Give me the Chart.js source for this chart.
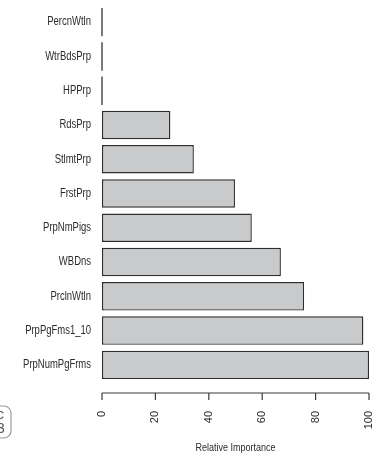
<!DOCTYPE html>
<html>
<head>
<meta charset="utf-8">
<script src="https://cdn.jsdelivr.net/npm/chart.js@4/dist/chart.umd.min.js"></script>
<style>
  html, body { margin: 0; padding: 0; background: #ffffff; }
  #wrap { width: 376px; height: 457px; position: relative; }
</style>
</head>
<body>
<div id="wrap"><canvas id="chart" width="376" height="457"></canvas></div>
<script>
// Variable names, top to bottom
const variables = [
  'PercnWtln', 'WtrBdsPrp', 'HPPrp', 'RdsPrp', 'StlmtPrp', 'FrstPrp',
  'PrpNmPigs', 'WBDns', 'PrclnWtln', 'PrpPgFms1_10', 'PrpNumPgFrms'
];
// Relative importance of each variable (0-100)
const importance = [0, 0, 0, 25.6, 34.4, 49.8, 56.1, 67.0, 75.7, 97.9, 100];
// Axis ticks
const tickValues = [0, 20, 40, 60, 80, 100];
const axisTitle = 'Relative Importance';

const FONT = "'Liberation Sans', Arial, sans-serif";
const TEXT_COLOR = '#2b2b2b';
const AXIS_GAP = 11;   // distance between bar region and the drawn axis line
const TICK_LEN = 7;

// Draws a string squeezed horizontally (narrow sans look)
function narrowText(ctx, text, x, y, size, squeeze, align) {
  ctx.save();
  ctx.font = size + 'px ' + FONT;
  ctx.fillStyle = TEXT_COLOR;
  ctx.textBaseline = 'middle';
  ctx.textAlign = align;
  ctx.translate(x, y);
  ctx.scale(squeeze, 1);
  ctx.fillText(text, 0, 0);
  ctx.restore();
}

// Category names beside the bars and the axis title
const narrowLabels = {
  id: 'narrowLabels',
  afterDraw(chart) {
    const ctx = chart.ctx;
    const ys = chart.scales.y;
    const xs = chart.scales.x;
    const right = chart.chartArea.left - 11;
    variables.forEach((name, i) => {
      narrowText(ctx, name, right, ys.getPixelForValue(i), 12, 0.79, 'right');
    });
    const cx = (xs.getPixelForValue(0) + xs.getPixelForValue(100)) / 2;
    narrowText(ctx, axisTitle, cx, 448, 11, 0.82, 'center');
  }
};

// R-style axis: a line spanning the first to last tick, with short ticks below
const rAxis = {
  id: 'rAxis',
  afterDraw(chart) {
    const ctx = chart.ctx;
    const xs = chart.scales.x;
    const y0 = chart.chartArea.bottom + AXIS_GAP;
    ctx.save();
    ctx.strokeStyle = '#3a3a3a';
    ctx.lineWidth = 1.2;
    ctx.beginPath();
    ctx.moveTo(xs.getPixelForValue(tickValues[0]), y0);
    ctx.lineTo(xs.getPixelForValue(tickValues[tickValues.length - 1]), y0);
    tickValues.forEach(v => {
      const px = xs.getPixelForValue(v);
      ctx.moveTo(px, y0);
      ctx.lineTo(px, y0 + TICK_LEN);
    });
    ctx.stroke();
    ctx.restore();
  }
};

// Zero-valued bars collapse to a single vertical stroke at the origin
const zeroBars = {
  id: 'zeroBars',
  afterDatasetsDraw(chart) {
    const ctx = chart.ctx;
    const meta = chart.getDatasetMeta(0);
    const xs = chart.scales.x;
    ctx.save();
    ctx.strokeStyle = '#333333';
    ctx.lineWidth = 1.3;
    meta.data.forEach((el, i) => {
      if (importance[i] !== 0) return;
      const px = xs.getPixelForValue(0);
      const h = el.height;
      ctx.beginPath();
      ctx.moveTo(px, el.y - h / 2);
      ctx.lineTo(px, el.y + h / 2);
      ctx.stroke();
    });
    ctx.restore();
  }
};

// Rounded frame partly visible at the lower left edge
const edgeFrame = {
  id: 'edgeFrame',
  beforeDraw(chart) {
    const ctx = chart.ctx;
    ctx.save();
    ctx.strokeStyle = '#9a9a9a';
    ctx.lineWidth = 1.2;
    ctx.beginPath();
    ctx.roundRect(-14, 406, 25, 32, 7);
    ctx.stroke();
    ctx.beginPath();
    ctx.rect(0, 406, 10, 32);
    ctx.clip();
    ctx.fillStyle = '#555555';
    ctx.font = "14px " + FONT;
    ctx.textBaseline = 'middle';
    ctx.textAlign = 'left';
    ctx.fillText('3', -3, 429);
    ctx.fillText('c', -3, 415);
    ctx.restore();
  }
};

new Chart(document.getElementById('chart'), {
  type: 'bar',
  data: {
    labels: variables,
    datasets: [{
      data: importance,
      backgroundColor: '#c9cacb',
      borderColor: '#2e2e2e',
      borderWidth: 1.4,
      borderSkipped: false,
      categoryPercentage: 1,
      barPercentage: 0.83
    }]
  },
  options: {
    indexAxis: 'y',
    responsive: false,
    animation: false,
    devicePixelRatio: 1,
    layout: { padding: { top: 5, right: 7, left: 0, bottom: 0 } },
    plugins: { legend: { display: false }, tooltip: { enabled: false } },
    scales: {
      y: {
        offset: true,
        grid: { display: false, drawTicks: false },
        border: { display: false },
        ticks: { display: false },
        afterFit(s) {
          s.width = 102;
          s.paddingTop = 0;
          s.paddingBottom = 0;
        }
      },
      x: {
        min: 0,
        max: 100,
        grid: { display: false, drawTicks: false },
        border: { display: false },
        afterBuildTicks(s) { s.ticks = tickValues.map(v => ({ value: v })); },
        ticks: {
          color: TEXT_COLOR,
          minRotation: 90,
          maxRotation: 90,
          padding: 29,
          font: { family: FONT, size: 11 }
        },
        afterFit(s) {
          s.height = 75;
          s.paddingLeft = 0;
          s.paddingRight = 0;
        }
      }
    }
  },
  plugins: [edgeFrame, zeroBars, rAxis, narrowLabels]
});
</script>
</body>
</html>
